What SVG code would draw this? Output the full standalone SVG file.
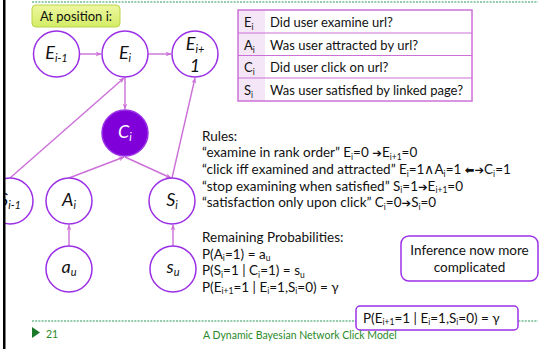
<svg xmlns="http://www.w3.org/2000/svg" width="560" height="349" viewBox="0 0 560 349">
<style>
.t{font-family:Lato,"Liberation Sans",sans-serif;fill:#111;}
.n{fill:#fff;stroke:#9b30e6;stroke-width:1.5;}
.nl{font-family:Lato,"Liberation Sans",sans-serif;font-style:italic;font-size:18px;fill:#111;text-anchor:middle;}
.ns{font-size:11px;}
.e{stroke:#cc70d8;stroke-width:1.4;fill:none;marker-end:url(#ah);}
.sb{font-size:8.5px;}
.sy{font-family:"DejaVu Sans",sans-serif;font-weight:bold;font-size:11.5px;}
.dot{stroke:#6fbf90;stroke-width:1.5;stroke-dasharray:2 1.2;}
.ft{font-family:Lato,"Liberation Sans",sans-serif;fill:#2a8a2a;font-size:10.5px;}
</style>
<defs>
<marker id="ah" viewBox="0 0 10 10" refX="9" refY="5" markerWidth="6" markerHeight="6" orient="auto" markerUnits="userSpaceOnUse">
<path d="M0,1 L10,5 L0,9 L3,5 Z" fill="#cc70d8"/>
</marker>
<linearGradient id="yg" x1="0" y1="0" x2="0" y2="1">
<stop offset="0" stop-color="#eef7a0"/>
<stop offset="1" stop-color="#d4ec66"/>
</linearGradient>
</defs>
<rect width="560" height="349" fill="#fff"/>
<line class="dot" x1="32" y1="2" x2="538" y2="2"/>
<line class="dot" x1="32" y1="321" x2="538" y2="321"/>

<g id="label-position">
<rect x="32" y="5" width="88" height="22" rx="4" fill="url(#yg)" stroke="#b8d44a" stroke-width="1"/>
<text class="t" x="76" y="20.5" font-size="13" text-anchor="middle">At position i:</text>
</g>

<g id="connectors">
<line class="e" x1="80" y1="54" x2="101" y2="54"/>
<line class="e" x1="148" y1="54" x2="171" y2="54"/>
<line class="e" x1="125" y1="77" x2="125" y2="109"/>
<line class="e" x1="10" y1="178" x2="124" y2="78"/>
<line class="e" x1="172" y1="178" x2="195" y2="78"/>
<line class="e" x1="69" y1="178" x2="124" y2="157"/>
<line class="e" x1="125" y1="157" x2="171" y2="178"/>
<line class="e" x1="69" y1="246" x2="69" y2="225"/>
<line class="e" x1="173" y1="246" x2="173" y2="225"/>
</g>

<g id="node-E-prev">
<circle class="n" cx="56.5" cy="54" r="23"/>
<text class="nl" x="56.5" y="59">E<tspan class="ns" dy="3">i-1</tspan></text>
</g>
<g id="node-E">
<circle class="n" cx="125" cy="54" r="23"/>
<text class="nl" x="125" y="59">E<tspan class="ns" dy="3">i</tspan></text>
</g>
<g id="node-E-next">
<circle class="n" cx="195" cy="54" r="23"/>
<text class="nl" x="195" y="50">E<tspan class="ns" dy="3">i+</tspan></text>
<text class="nl" x="195" y="72" font-size="12">1</text>
</g>
<g id="node-C">
<circle cx="125" cy="133" r="23" fill="#7f00d9" stroke="#9b30e6" stroke-width="1.5"/>
<text class="nl" x="125" y="138" style="fill:#fff">C<tspan class="ns" dy="3">i</tspan></text>
</g>
<g id="node-S-prev">
<circle class="n" cx="10" cy="201" r="23"/>
<text class="nl" x="10" y="206">S<tspan class="ns" dy="3">i-1</tspan></text>
</g>
<g id="node-A">
<circle class="n" cx="69" cy="201" r="23"/>
<text class="nl" x="69" y="206">A<tspan class="ns" dy="3">i</tspan></text>
</g>
<g id="node-S">
<circle class="n" cx="172" cy="201" r="23"/>
<text class="nl" x="172" y="206">S<tspan class="ns" dy="3">i</tspan></text>
</g>
<g id="node-au">
<circle class="n" cx="69" cy="269" r="23"/>
<text class="nl" x="69" y="273">a<tspan class="ns" dy="3">u</tspan></text>
</g>
<g id="node-su">
<circle class="n" cx="173" cy="269" r="23"/>
<text class="nl" x="173" y="273" font-size="15">s<tspan class="ns" dy="3">u</tspan></text>
</g>

<rect x="0" y="0" width="3" height="349" fill="#fff"/>
<rect x="3" y="0" width="2.5" height="349" fill="#000"/>

<g id="legend-table">
<rect x="238" y="10" width="27" height="91" fill="#f4e6f6"/>
<rect x="238" y="10" width="234" height="91" fill="none" stroke="#cc70d8" stroke-width="1.5"/>
<g stroke="#cc70d8" stroke-width="1.2">
<line x1="238" y1="33" x2="472" y2="33"/>
<line x1="238" y1="55.5" x2="472" y2="55.5"/>
<line x1="238" y1="78" x2="472" y2="78"/>
</g>
<g class="t" font-size="13">
<text x="244" y="27">E<tspan class="sb" dy="2.5">i</tspan></text>
<text x="244" y="50">A<tspan class="sb" dy="2.5">i</tspan></text>
<text x="244" y="72">C<tspan class="sb" dy="2.5">i</tspan></text>
<text x="244" y="95">S<tspan class="sb" dy="2.5">i</tspan></text>
<text x="270" y="27">Did user examine url?</text>
<text x="270" y="50">Was user attracted by url?</text>
<text x="270" y="72">Did user click on url?</text>
<text x="270" y="95">Was user satisfied by linked page?</text>
</g>
</g>

<g id="rules" class="t" font-size="13.5">
<text x="202" y="140.5">Rules:</text>
<text x="202" y="157">“examine in rank order” E<tspan class="sb" dy="2.5">i</tspan><tspan dy="-2.5">=0 </tspan><tspan class="sy">➔</tspan>E<tspan class="sb" dy="2.5">i+1</tspan><tspan dy="-2.5">=0</tspan></text>
<text x="202" y="174">“click iff examined and attracted” E<tspan class="sb" dy="2.5">i</tspan><tspan dy="-2.5">=1∧A</tspan><tspan class="sb" dy="2.5">i</tspan><tspan dy="-2.5">=1 </tspan><tspan class="sy">⬅➔</tspan>C<tspan class="sb" dy="2.5">i</tspan><tspan dy="-2.5">=1</tspan></text>
<text x="202" y="190.5">“stop examining when satisfied” S<tspan class="sb" dy="2.5">i</tspan><tspan dy="-2.5">=1</tspan><tspan class="sy">➔</tspan>E<tspan class="sb" dy="2.5">i+1</tspan><tspan dy="-2.5">=0</tspan></text>
<text x="202" y="207">“satisfaction only upon click” C<tspan class="sb" dy="2.5">i</tspan><tspan dy="-2.5">=0</tspan><tspan class="sy">➔</tspan>S<tspan class="sb" dy="2.5">i</tspan><tspan dy="-2.5">=0</tspan></text>
</g>

<g id="probabilities" class="t" font-size="13.5">
<text x="202" y="242">Remaining Probabilities:</text>
<text x="202" y="258.5">P(A<tspan class="sb" dy="2.5">i</tspan><tspan dy="-2.5">=1) = a</tspan><tspan class="sb" dy="2.5">u</tspan></text>
<text x="202" y="275">P(S<tspan class="sb" dy="2.5">i</tspan><tspan dy="-2.5">=1 | C</tspan><tspan class="sb" dy="2.5">i</tspan><tspan dy="-2.5">=1) = s</tspan><tspan class="sb" dy="2.5">u</tspan></text>
<text x="202" y="291.5">P(E<tspan class="sb" dy="2.5">i+1</tspan><tspan dy="-2.5">=1 | E</tspan><tspan class="sb" dy="2.5">i</tspan><tspan dy="-2.5">=1,S</tspan><tspan class="sb" dy="2.5">i</tspan><tspan dy="-2.5">=0) = γ</tspan></text>
</g>

<g id="inference-note">
<rect x="401" y="236" width="137" height="45" rx="8" fill="#fff" stroke="#9b30e6" stroke-width="1.5"/>
<text class="t" x="469.5" y="255" font-size="13.5" text-anchor="middle">Inference now more</text>
<text class="t" x="469.5" y="272" font-size="13.5" text-anchor="middle">complicated</text>
</g>

<g id="gamma-box">
<rect x="356" y="306" width="162" height="24" rx="4" fill="#fff" stroke="#9b30e6" stroke-width="1.5"/>
<text class="t" x="363" y="322.5" font-size="13.5">P(E<tspan class="sb" dy="2.5">i+1</tspan><tspan dy="-2.5">=1 | E</tspan><tspan class="sb" dy="2.5">i</tspan><tspan dy="-2.5">=1,S</tspan><tspan class="sb" dy="2.5">i</tspan><tspan dy="-2.5">=0) = γ</tspan></text>
</g>

<g id="footer">
<path d="M32,327 L40,332.5 L32,338 Z" fill="#1a7a2a"/>
<text class="ft" x="46" y="338">21</text>
<text class="ft" x="203" y="339">A Dynamic Bayesian Network Click Model</text>
</g>
</svg>
